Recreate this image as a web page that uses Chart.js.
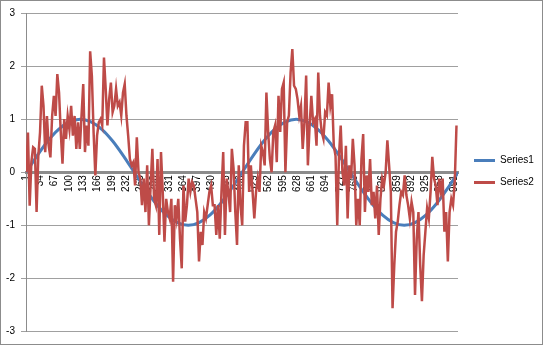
<!DOCTYPE html>
<html>
<head>
<meta charset="utf-8">
<script src="https://cdn.jsdelivr.net/npm/chart.js@4.4.1/dist/chart.umd.min.js"></script>
<style>
  html, body { margin: 0; padding: 0; background: #fff; }
  #wrap { width: 543px; height: 345px; box-sizing: border-box; border: 1px solid #8c8c8c; }
</style>
</head>
<body>
<div id="wrap"><canvas id="chart"></canvas></div>
<script>
// Excel-style two-series line chart: smooth wave + noisy signal
var BLUE = "#4a7ebb";
var RED = "#be4b48";
var AXIS = "#8c8c8c";
var GRID = "#a0a0a0";

var seriesNames = ["Series1", "Series2"];
var xTickLabels = [1, 34, 67, 100, 133, 166, 199, 232, 265, 298, 331, 364, 397, 430, 463,
  496, 529, 562, 595, 628, 661, 694, 727, 760, 793, 826, 859, 892, 925, 958, 991];
var yTicks = [-3, -2, -1, 0, 1, 2, 3];

// Series1 read every 25 points (point 1, 26, 51, ...)
var series1Step = 25;
var series1Values = [0, 0.31, 0.59, 0.81, 0.95, 1, 0.95, 0.81, 0.59, 0.31,
  0, -0.31, -0.59, -0.81, -0.95, -1, -0.95, -0.81, -0.59, -0.31,
  0, 0.31, 0.59, 0.81, 0.95, 1, 0.95, 0.81, 0.59, 0.31,
  0, -0.31, -0.59, -0.81, -0.95, -1, -0.95, -0.81, -0.59, -0.31, 0];

// Series2 read every 4 points (point 1, 5, 9, ...)
var series2Step = 4;
var series2Values = [
  0.0, 0.75, -0.63, 0.2, 0.47, 0.44, -0.75, 0.31, 0.75, 1.63,
  1.25, 0.38, 1.06, 0.5, 0.28, 1.06, 1.44, 1.06, 1.85, 1.5,
  0.75, 0.16, 1.0, 0.63, 1.06, 0.81, 1.25, 0.69, 1.06, 0.44,
  0.94, 0.44, 1.06, 1.66, 0.38, 0.88, 0.5, 2.28, 1.81, 0.75,
  -0.06, 0.69,
  0.94, 1.0, 0.88, 2.16, 1.57, 0.88, 1.38, 1.69, 1.13, 1.25,
  1.57, 1.25, 1.32, 1.07, 1.5, 1.66, 1.07, 0.69, 0.25, 0.13,
  0.19, -0.25, 0.66, 0.0, -0.12, -0.62, -0.12, -0.75, 0.13, -1.0,
  -0.25, 0.44, -0.5, -0.62, 0.25, -1.18, 0.38, -0.37, -1.31, -0.5,
  -0.75, -0.87,
  -0.5, -2.06, -0.62, -0.87, -0.5, -1.25, -1.81, -0.25, -0.93, -0.62,
  -0.12, -0.37, -0.18, -0.25, -0.5, -0.75, -1.68, -1.12, -1.37, -0.75,
  -0.87, -0.62, -0.37, -0.25, -0.62, -0.62, -1.18, -0.62, -1.25, -0.37,
  0.38, -1.18, -0.12, -0.37, -0.75, 0.44, 0.07, -0.75, -1.37, 0.13,
  -0.62, -1.0, 0.5, 0.94,
  0.94, -0.37, 0.13, -0.37, -0.87, -0.37, -0.12, -0.37, 0.5, 0.38,
  0.13, 1.5, 0.76, 0.25, 0.0, 0.76, 0.88, 0.19, 1.44, 0.76,
  1.57, 1.69, 0.0, 0.94, 1.07, 1.88, 2.32, 1.63, 1.57, 1.38,
  1.07, 1.25, 0.44, 0.94, 1.82, 0.13, 0.88, 1.44, 0.94, 1.0,
  0.5, 1.88, 1.07,
  0.76, 0.63, 1.13, 1.07, 1.69, 1.25, 1.47, 0.5, 0.31, -1.0,
  0.31, 0.88, 0.0, -0.25, 0.5, -0.87, 0.13, -0.12, 0.63, 0.13,
  -1.0, -0.5, -1.0, 0.25, 0.72, -0.75, -0.06, -0.37, 0.25, -0.62,
  -0.37, -0.87, -0.25, -1.18, -0.5, -0.12, -0.25, 0.0, 0.6, 0.13,
  -0.37, -2.56, -1.75, -1.12,
  -0.93, -0.62, -0.37, -0.43, -0.06, -0.43, -0.62, -0.87, -0.56, -0.75,
  -2.31, -1.25, -0.75, -1.75, -2.43, -1.56, -1.12, -0.68, -0.87, -0.37,
  0.29, -0.12, -0.25, -0.62, -0.12, -0.37, -0.12, -1.12, -0.75, -1.68,
  -0.75, -0.5, -0.62, -0.18, 0.88
];

function toPoints(values, step) {
  return values.map(function (v, i) { return { x: 1 + i * step, y: v }; });
}

function setXTicks(scale) {
  scale.ticks = xTickLabels.map(function (v) { return { value: v }; });
}

Chart.defaults.font.family = "'Liberation Sans', Arial, sans-serif";
Chart.defaults.font.size = 10;
Chart.defaults.color = "#000";

new Chart(document.getElementById("chart"), {
  type: "line",
  data: {
    datasets: [
      {
        label: seriesNames[0],
        data: toPoints(series1Values, series1Step),
        borderColor: BLUE,
        backgroundColor: BLUE,
        borderWidth: 3,
        pointRadius: 0,
        cubicInterpolationMode: "monotone",
        order: 1
      },
      {
        label: seriesNames[1],
        data: toPoints(series2Values, series2Step),
        borderColor: RED,
        backgroundColor: RED,
        borderWidth: 2.5,
        pointRadius: 0,
        tension: 0,
        order: 0
      }
    ]
  },
  options: {
    responsive: true,
    maintainAspectRatio: false,
    animation: false,
    layout: { padding: { left: 0, top: 10.5, right: 0, bottom: 12.5 } },
    plugins: {
      tooltip: { enabled: false },
      legend: {
        position: "right",
        maxWidth: 80,
        labels: {
          boxWidth: 21,
          boxHeight: 3,
          padding: 12,
          color: "#000",
          font: { size: 10 },
          generateLabels: function (chart) {
            return chart.data.datasets.map(function (ds, i) {
              return {
                text: ds.label,
                fillStyle: ds.borderColor,
                strokeStyle: ds.borderColor,
                lineWidth: 0,
                datasetIndex: i,
                hidden: false
              };
            });
          }
        }
      }
    },
    scales: {
      x: {
        type: "linear",
        position: { y: 0 },
        min: 0.5,
        max: 1000.5,
        afterBuildTicks: setXTicks,
        grid: { display: false, drawTicks: false },
        border: { display: true, color: AXIS, width: 3 },
        ticks: { display: false }
      },
      xTicks: {
        axis: "x",
        type: "linear",
        position: { y: 0 },
        min: 0.5,
        max: 1000.5,
        z: 1,
        afterBuildTicks: setXTicks,
        grid: { display: false, drawTicks: false, tickLength: 0 },
        border: { display: false },
        ticks: {
          autoSkip: false,
          minRotation: 90,
          maxRotation: 90,
          padding: 3,
          color: "#000",
          callback: function (v) { return String(v); }
        }
      },
      y: {
        min: -3,
        max: 3,
        afterBuildTicks: function (scale) {
          scale.ticks = yTicks.map(function (v) { return { value: v }; });
        },
        afterFit: function (scale) { scale.width = 25; },
        grid: { color: GRID, tickLength: 5, drawTicks: true },
        border: { display: true, color: AXIS, width: 1 },
        ticks: { padding: 6, color: "#000" }
      },
      yGap: {
        axis: "y",
        position: "right",
        display: true,
        afterFit: function (scale) { scale.width = 4; },
        grid: { display: false },
        border: { display: false },
        ticks: { display: false }
      }
    }
  }
});
</script>
</body>
</html>
